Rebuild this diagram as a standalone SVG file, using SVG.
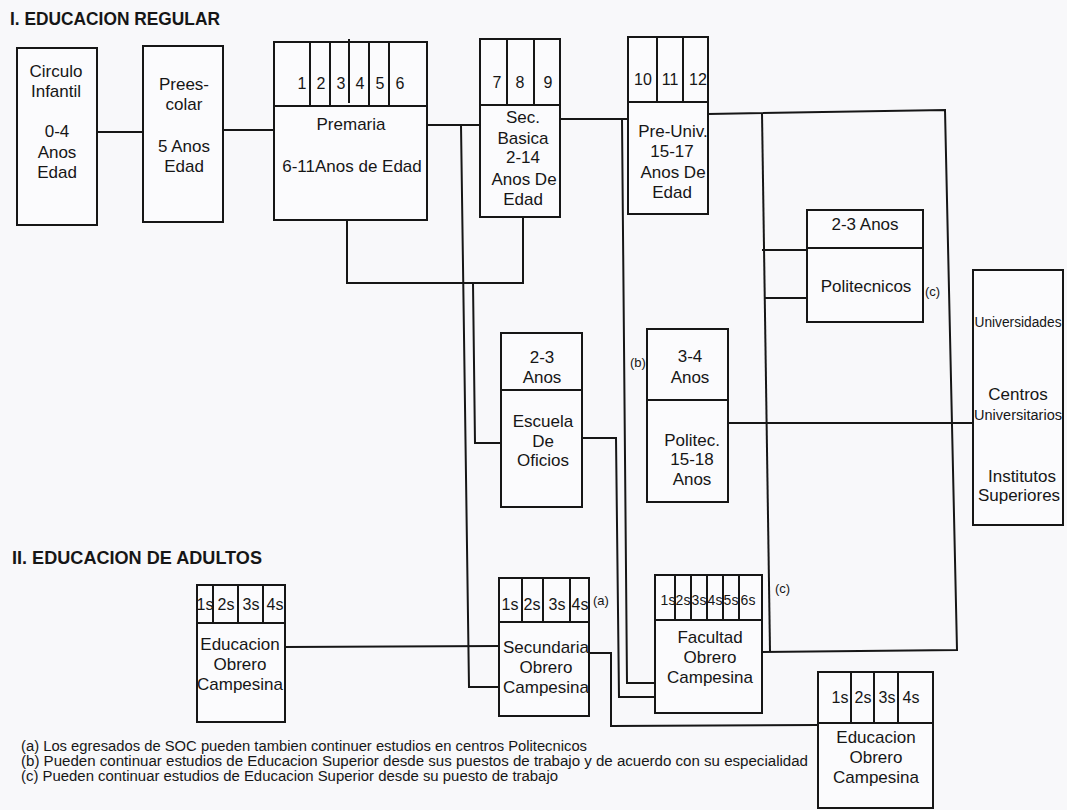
<svg xmlns="http://www.w3.org/2000/svg" width="1067" height="810" viewBox="0 0 1067 810">
<style>
.bx{fill:#fbfbfd;stroke:#161616;stroke-width:2}
.ln{fill:none;stroke:#161616;stroke-width:2}
text{font-family:"Liberation Sans",Arial,sans-serif;fill:#161616}
.t{font-size:17px;text-anchor:middle}
.c{font-size:16px;text-anchor:middle}
.q{font-size:14px;text-anchor:middle}
.k{font-size:13px;text-anchor:start}
.h{font-size:19px;font-weight:bold;text-anchor:start}
.f{font-size:14px;text-anchor:start}
</style>
<rect x="0" y="0" width="1067" height="810" fill="#f8f8fa"/>
<text class="h" x="10" y="25" textLength="210" lengthAdjust="spacingAndGlyphs">I. EDUCACION REGULAR</text>
<text class="h" x="12" y="564" textLength="250" lengthAdjust="spacingAndGlyphs">II. EDUCACION DE ADULTOS</text>

<g id="connectors">
<polyline class="ln" points="97,132 143,132"/>
<polyline class="ln" points="223,130 274,130"/>
<polyline class="ln" points="427,125 481,125"/>
<polyline class="ln" points="461,125 469,687 499,687"/>
<polyline class="ln" points="347,220 347,283 523,283 523,217"/>
<polyline class="ln" points="473,283 475,443 501,443"/>
<polyline class="ln" points="582,438 616,438 619,697 655,697"/>
<polyline class="ln" points="560,119 628,119"/>
<polyline class="ln" points="622,119 627,683 655,683"/>
<polyline class="ln" points="708,114 945,110 957,650 762,652"/>
<polyline class="ln" points="762,113 770,651"/>
<polyline class="ln" points="762,250 807,250"/>
<polyline class="ln" points="764,298 807,298"/>
<polyline class="ln" points="728,423 973,423"/>
<polyline class="ln" points="285,647 499,646"/>
<polyline class="ln" points="589,653 611,653 611,726 818,725"/>
</g>

<g id="circulo-infantil">
<rect class="bx" x="17" y="48" width="80" height="177"/>
<text class="t" x="56" y="77">Circulo</text>
<text class="t" x="56" y="97">Infantil</text>
<text class="t" x="57" y="137">0-4</text>
<text class="t" x="57" y="158">Anos</text>
<text class="t" x="57" y="178">Edad</text>
</g>

<g id="preescolar">
<rect class="bx" x="143" y="46" width="80" height="176"/>
<text class="t" x="184" y="90">Prees-</text>
<text class="t" x="184" y="110">colar</text>
<text class="t" x="184" y="152">5 Anos</text>
<text class="t" x="184" y="172">Edad</text>
</g>

<g id="primaria">
<rect class="bx" x="274" y="42" width="153" height="178"/>
<line class="ln" x1="274" y1="106" x2="427" y2="106"/>
<line class="ln" x1="310" y1="42" x2="310" y2="106"/>
<line class="ln" x1="330" y1="42" x2="330" y2="106"/>
<line class="ln" x1="349" y1="39" x2="349" y2="103"/>
<line class="ln" x1="369" y1="42" x2="369" y2="106"/>
<line class="ln" x1="389" y1="42" x2="389" y2="106"/>
<text class="c" x="302" y="89">1</text>
<text class="c" x="321" y="89">2</text>
<text class="c" x="341" y="89">3</text>
<text class="c" x="360" y="89">4</text>
<text class="c" x="380" y="89">5</text>
<text class="c" x="400" y="89">6</text>
<text class="t" x="351" y="130">Premaria</text>
<text class="t" x="352" y="172">6-11Anos de Edad</text>
</g>

<g id="sec-basica">
<rect class="bx" x="480" y="39" width="80" height="178"/>
<line class="ln" x1="480" y1="105" x2="560" y2="105"/>
<line class="ln" x1="507" y1="39" x2="507" y2="105"/>
<line class="ln" x1="534" y1="39" x2="534" y2="105"/>
<text class="c" x="497" y="88">7</text>
<text class="c" x="520" y="88">8</text>
<text class="c" x="548" y="88">9</text>
<text class="t" x="523" y="123">Sec.</text>
<text class="t" x="523" y="144">Basica</text>
<text class="t" x="523" y="163">2-14</text>
<text class="t" x="524" y="185">Anos De</text>
<text class="t" x="523" y="205">Edad</text>
</g>

<g id="pre-univ">
<rect class="bx" x="628" y="37" width="80" height="177"/>
<line class="ln" x1="628" y1="102" x2="708" y2="102"/>
<line class="ln" x1="657" y1="37" x2="657" y2="102"/>
<line class="ln" x1="683" y1="37" x2="683" y2="102"/>
<text class="c" x="643" y="85">10</text>
<text class="c" x="670" y="85">11</text>
<text class="c" x="698" y="85">12</text>
<text class="t" x="673" y="137">Pre-Univ.</text>
<text class="t" x="672" y="157">15-17</text>
<text class="t" x="673" y="178">Anos De</text>
<text class="t" x="672" y="198">Edad</text>
</g>

<g id="politecnicos">
<rect class="bx" x="807" y="210" width="116" height="112"/>
<line class="ln" x1="807" y1="248" x2="923" y2="248"/>
<text class="t" x="865" y="230">2-3 Anos</text>
<text class="t" x="866" y="292">Politecnicos</text>
<text class="k" x="925" y="296">(c)</text>
</g>

<g id="universidades">
<rect class="bx" x="973" y="270" width="90" height="255"/>
<text class="q" x="1018" y="327" textLength="87" lengthAdjust="spacingAndGlyphs">Universidades</text>
<text class="t" x="1018" y="400">Centros</text>
<text class="q" x="1018" y="420" textLength="88" lengthAdjust="spacingAndGlyphs">Universitarios</text>
<text class="t" x="1022" y="482">Institutos</text>
<text class="t" x="1019" y="501">Superiores</text>
</g>

<g id="escuela-oficios">
<rect class="bx" x="501" y="333" width="81" height="174"/>
<line class="ln" x1="501" y1="390" x2="582" y2="390"/>
<text class="t" x="542" y="363">2-3</text>
<text class="t" x="542" y="383">Anos</text>
<text class="t" x="543" y="427">Escuela</text>
<text class="t" x="543" y="447">De</text>
<text class="t" x="543" y="466">Oficios</text>
</g>

<g id="politec-15-18">
<rect class="bx" x="647" y="329" width="81" height="173"/>
<line class="ln" x1="647" y1="400" x2="728" y2="400"/>
<text class="k" x="630" y="367">(b)</text>
<text class="t" x="690" y="362">3-4</text>
<text class="t" x="690" y="383">Anos</text>
<text class="t" x="692" y="446">Politec.</text>
<text class="t" x="692" y="465">15-18</text>
<text class="t" x="692" y="485">Anos</text>
</g>

<g id="educacion-obrero-campesina-1">
<rect class="bx" x="197" y="585" width="88" height="137"/>
<line class="ln" x1="197" y1="623" x2="285" y2="623"/>
<line class="ln" x1="213" y1="585" x2="213" y2="623"/>
<line class="ln" x1="238" y1="585" x2="238" y2="623"/>
<line class="ln" x1="263" y1="585" x2="263" y2="623"/>
<text class="c" x="205" y="610">1s</text>
<text class="c" x="226" y="610">2s</text>
<text class="c" x="251" y="610">3s</text>
<text class="c" x="275" y="610">4s</text>
<text class="t" x="240" y="650">Educacion</text>
<text class="t" x="240" y="670">Obrero</text>
<text class="t" x="240" y="690">Campesina</text>
</g>

<g id="secundaria-obrero-campesina">
<rect class="bx" x="499" y="578" width="90" height="138"/>
<line class="ln" x1="499" y1="622" x2="589" y2="622"/>
<line class="ln" x1="522" y1="578" x2="522" y2="622"/>
<line class="ln" x1="543" y1="578" x2="543" y2="622"/>
<line class="ln" x1="570" y1="578" x2="570" y2="622"/>
<text class="c" x="510" y="610">1s</text>
<text class="c" x="532" y="610">2s</text>
<text class="c" x="557" y="610">3s</text>
<text class="c" x="580" y="610">4s</text>
<text class="k" x="593" y="605">(a)</text>
<text class="t" x="546" y="653">Secundaria</text>
<text class="t" x="546" y="673">Obrero</text>
<text class="t" x="546" y="693">Campesina</text>
</g>

<g id="facultad-obrero-campesina">
<rect class="bx" x="655" y="575" width="107" height="138"/>
<line class="ln" x1="655" y1="620" x2="762" y2="620"/>
<line class="ln" x1="675" y1="575" x2="675" y2="620"/>
<line class="ln" x1="691" y1="575" x2="691" y2="620"/>
<line class="ln" x1="707" y1="575" x2="707" y2="620"/>
<line class="ln" x1="723" y1="575" x2="723" y2="620"/>
<line class="ln" x1="739" y1="575" x2="739" y2="620"/>
<text class="q" x="668" y="605">1s</text>
<text class="q" x="683" y="605">2s</text>
<text class="q" x="699" y="605">3s</text>
<text class="q" x="715" y="605">4s</text>
<text class="q" x="731" y="605">5s</text>
<text class="q" x="748" y="605">6s</text>
<text class="k" x="775" y="593">(c)</text>
<text class="t" x="710" y="643">Facultad</text>
<text class="t" x="710" y="663">Obrero</text>
<text class="t" x="710" y="683">Campesina</text>
</g>

<g id="educacion-obrero-campesina-2">
<rect class="bx" x="818" y="672" width="115" height="136"/>
<line class="ln" x1="818" y1="723" x2="933" y2="723"/>
<line class="ln" x1="851" y1="672" x2="851" y2="723"/>
<line class="ln" x1="874" y1="672" x2="874" y2="723"/>
<line class="ln" x1="898" y1="672" x2="898" y2="723"/>
<text class="c" x="840" y="703">1s</text>
<text class="c" x="863" y="703">2s</text>
<text class="c" x="887" y="703">3s</text>
<text class="c" x="911" y="703">4s</text>
<text class="t" x="876" y="743">Educacion</text>
<text class="t" x="876" y="763">Obrero</text>
<text class="t" x="876" y="783">Campesina</text>
</g>

<text class="f" x="21" y="751" textLength="566" lengthAdjust="spacingAndGlyphs">(a) Los egresados de SOC pueden tambien continuer estudios en centros Politecnicos</text>
<text class="f" x="21" y="766" textLength="787" lengthAdjust="spacingAndGlyphs">(b) Pueden continuar estudios de Educacion Superior desde sus puestos de trabajo y de acuerdo con su especialidad</text>
<text class="f" x="21" y="781" textLength="537" lengthAdjust="spacingAndGlyphs">(c) Pueden continuar estudios de Educacion Superior desde su puesto de trabajo</text>
</svg>
